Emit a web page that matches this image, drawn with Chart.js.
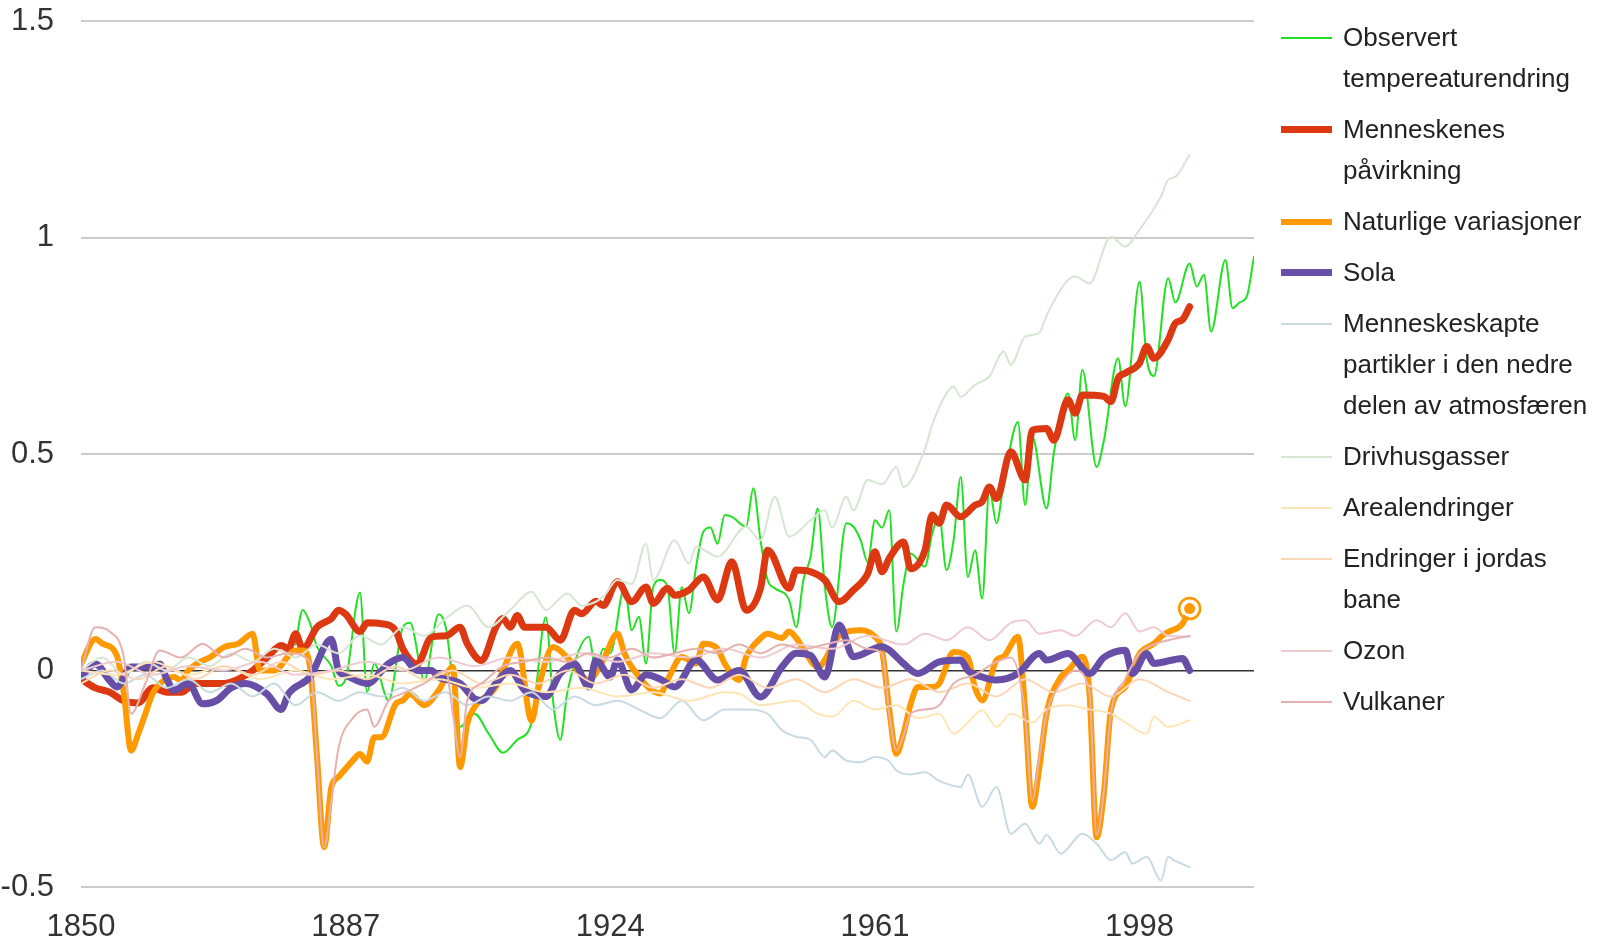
<!DOCTYPE html>
<html lang="no">
<head>
    <meta charset="UTF-8">
    <title>Temperaturendring og årsaker</title>
    <script src="https://cdn.jsdelivr.net/npm/chart.js"></script>
    <style>
        body {
            margin: 0;
            background: #fff;
            font-family: 'Liberation Sans', Arial, sans-serif;
        }

        .wrap {
            position: relative;
            width: 1598px;
            height: 939px;
        }

        #chart {
            position: absolute;
            left: 0;
            top: 0;
        }

        .legend {
            position: absolute;
            left: 1281px;
            top: 17px;
            width: 317px;
        }

        .item {
            display: flex;
            align-items: flex-start;
            margin-bottom: 10px;
        }

        .swatch {
            flex: none;
            width: 51px;
        }

        .label {
            margin-left: 11px;
            width: 255px;
            font-size: 26px;
            line-height: 41px;
            color: #222;
        }
    </style>
</head>
<body>
    <div class="wrap">
        <canvas id="chart" width="1598" height="939"></canvas>
        <div class="legend" id="legend"></div>
    </div>

    <script>
        // Ticks
        const xTicks = [1850, 1887, 1924, 1961, 1998];
        const yTicks = [-0.5, 0, 0.5, 1, 1.5];

        // Observert temperaturendring
        const obsYears = [1880, 1881, 1882, 1883, 1885, 1886, 1887, 1889, 1890, 1891, 1893, 1895, 1896, 1898, 1900, 1901, 1903, 1905, 1907, 1909,
            1911, 1913, 1915, 1916, 1917, 1918, 1921, 1922, 1923, 1924, 1926, 1927, 1928, 1929, 1930, 1931, 1932, 1933, 1934, 1935,
            1936, 1937, 1938, 1939, 1940, 1941, 1943, 1944, 1945, 1946, 1947, 1949, 1950, 1951, 1952, 1953, 1954, 1955, 1957, 1958,
            1959, 1960, 1961, 1962, 1963, 1964, 1965, 1966, 1968, 1969, 1970, 1971, 1972, 1973, 1974, 1975, 1976, 1977, 1978, 1979,
            1981, 1982, 1983, 1985, 1986, 1988, 1989, 1990, 1992, 1993, 1995, 1996, 1998, 1999, 2000, 2002, 2003, 2005, 2006, 2007,
            2008, 2010, 2011, 2012, 2013, 2014];
        const obsVals = [0.06, 0.14, 0.11, 0.055, 0.01, -0.035, -0.02, 0.18, -0.05, 0.016, -0.069, 0.1, 0.11, -0.022, 0.13, 0.1, -0.13, -0.1, -0.146, -0.19,
            -0.16, -0.12, 0.123, -0.07, -0.16, -0.05, 0.078, 0.0, 0.05, 0.04, 0.193, 0.093, 0.124, 0.016, 0.193, 0.209, 0.193, 0.039, 0.193, 0.132,
            0.24, 0.32, 0.33, 0.293, 0.359, 0.355, 0.332, 0.421, 0.301, 0.209, 0.19, 0.163, 0.1, 0.209, 0.262, 0.374, 0.193, 0.1, 0.34, 0.332,
            0.301, 0.25, 0.347, 0.33, 0.37, 0.09, 0.2, 0.27, 0.24, 0.316, 0.355, 0.232, 0.301, 0.447, 0.216, 0.278, 0.166, 0.42, 0.34, 0.432,
            0.574, 0.382, 0.54, 0.374, 0.5, 0.64, 0.532, 0.694, 0.47, 0.53, 0.721, 0.61, 0.898, 0.72, 0.68, 0.906, 0.85, 0.94, 0.887, 0.914,
            0.783, 0.948, 0.837, 0.85, 0.864, 0.956];

        // Menneskenes påvirkning
        const humanYears = [1850, 1852, 1854, 1856, 1858, 1860, 1862, 1864, 1866, 1868, 1870, 1872, 1874, 1876, 1878, 1879, 1880, 1881, 1883, 1885,
            1886, 1887, 1889, 1890, 1892, 1894, 1895, 1897, 1899, 1901, 1903, 1904, 1906, 1908, 1909, 1910, 1911, 1912, 1915, 1917,
            1919, 1920, 1922, 1923, 1925, 1927, 1929, 1930, 1932, 1933, 1935, 1937, 1939, 1941, 1943, 1945, 1946, 1949, 1950, 1952,
            1954, 1956, 1958, 1960, 1961, 1962, 1963, 1965, 1966, 1968, 1969, 1970, 1971, 1973, 1975, 1976, 1977, 1978, 1980, 1982,
            1983, 1985, 1986, 1988, 1989, 1990, 1993, 1994, 1995, 1996, 1998, 1999, 2000, 2002, 2003, 2004, 2005];
        const humanVals = [-0.02, -0.04, -0.05, -0.07, -0.075, -0.04, -0.05, -0.05, -0.03, -0.03, -0.03, -0.02, 0.0, 0.03, 0.058, 0.05, 0.085, 0.05, 0.1, 0.12,
            0.139, 0.13, 0.09, 0.11, 0.108, 0.092, 0.05, 0.015, 0.077, 0.08, 0.1, 0.062, 0.023, 0.1, 0.12, 0.1, 0.127, 0.1, 0.1, 0.07,
            0.139, 0.131, 0.16, 0.15, 0.205, 0.159, 0.193, 0.155, 0.19, 0.174, 0.186, 0.216, 0.163, 0.251, 0.139, 0.19, 0.278, 0.19, 0.232, 0.228,
            0.209, 0.159, 0.186, 0.224, 0.274, 0.228, 0.259, 0.297, 0.235, 0.278, 0.359, 0.34, 0.382, 0.355, 0.382, 0.39, 0.424, 0.397, 0.505, 0.44,
            0.555, 0.559, 0.532, 0.625, 0.594, 0.636, 0.633, 0.621, 0.675, 0.687, 0.71, 0.748, 0.721, 0.764, 0.802, 0.81, 0.84];

        // Naturlige variasjoner
        const naturalYears = [1850, 1852, 1853, 1855, 1856, 1857, 1858, 1859, 1860, 1861, 1863, 1864, 1865, 1867, 1868, 1870, 1872, 1874, 1875, 1877,
            1880, 1881, 1882, 1883, 1884, 1885, 1886, 1888, 1889, 1890, 1891, 1892, 1894, 1895, 1896, 1898, 1900, 1902, 1903, 1904,
            1905, 1908, 1909, 1911, 1913, 1914, 1916, 1918, 1921, 1923, 1925, 1926, 1927, 1931, 1932, 1934, 1936, 1937, 1939, 1940,
            1942, 1943, 1945, 1946, 1948, 1949, 1950, 1951, 1953, 1956, 1959, 1961, 1962, 1963, 1964, 1965, 1966, 1967, 1969, 1970,
            1972, 1974, 1975, 1976, 1978, 1979, 1981, 1982, 1983, 1984, 1985, 1987, 1988, 1990, 1991, 1992, 1993, 1994, 1996, 1998,
            2000, 2001, 2002, 2004, 2005];
        const naturalVals = [0.015, 0.073, 0.062, 0.035, -0.054, -0.185, -0.146, -0.1, -0.054, -0.031, -0.015, -0.023, 0.0, 0.023, 0.03, 0.054, 0.062, 0.085, 0.0, 0.0,
            0.046, 0.046, 0.01, -0.2, -0.408, -0.27, -0.246, -0.208, -0.193, -0.21, -0.154, -0.154, -0.077, -0.069, -0.054, -0.08, -0.046, 0.008, -0.223, -0.123,
            -0.085, -0.038, 0.0, 0.062, -0.116, -0.038, 0.054, 0.03, -0.022, 0.024, 0.085, 0.039, 0.008, -0.053, -0.022, 0.031, 0.016, 0.062, 0.05, 0.016,
            -0.022, 0.031, 0.074, 0.085, 0.075, 0.09, 0.075, 0.05, 0.008, 0.08, 0.093, 0.078, 0.047, -0.09, -0.192, -0.146, -0.077, -0.038, -0.038, -0.03,
            0.043, 0.03, -0.04, -0.069, 0.024, 0.032, 0.078, -0.09, -0.315, -0.223, -0.1, -0.015, 0.0, 0.032, -0.053, -0.385, -0.285, -0.092, -0.038, 0.039,
            0.062, 0.078, 0.089, 0.108, 0.143];

        // Sola
        const solarYears = [1850, 1852, 1854, 1855, 1857, 1860, 1861, 1862, 1863, 1865, 1867, 1869, 1871, 1873, 1876, 1878, 1879, 1882, 1885, 1886,
            1887, 1890, 1893, 1895, 1897, 1899, 1900, 1903, 1905, 1906, 1908, 1910, 1912, 1915, 1917, 1919, 1921, 1922, 1924, 1925,
            1927, 1929, 1931, 1933, 1936, 1939, 1942, 1945, 1948, 1950, 1952, 1954, 1956, 1958, 1962, 1963, 1965, 1967, 1970, 1973,
            1974, 1976, 1978, 1981, 1984, 1985, 1988, 1991, 1993, 1996, 1997, 1999, 2000, 2004, 2005];
        const solarVals = [-0.015, 0.015, -0.023, -0.038, 0.008, 0.008, 0.015, -0.02, -0.046, -0.03, -0.077, -0.069, -0.04, -0.03, -0.054, -0.09, -0.054, -0.015, 0.072, 0.0,
            -0.011, -0.03, 0.016, 0.03, 0.0, 0.0, -0.015, -0.03, -0.065, -0.069, -0.03, 0.0, -0.045, -0.06, -0.007, 0.015, -0.038, 0.024, -0.015, 0.024,
            -0.045, -0.01, -0.02, -0.038, 0.024, -0.022, 0.0, -0.061, 0.008, 0.04, 0.035, -0.015, 0.105, 0.032, 0.055, 0.047, 0.016, -0.007, 0.02, 0.024,
            0.0, -0.015, -0.022, -0.007, 0.039, 0.024, 0.039, -0.007, 0.03, 0.047, -0.007, 0.039, 0.016, 0.028, 0.0];

        // Menneskeskapte partikler i den nedre delen av atmosfæren
        const aerosolYears = [1850, 1853, 1856, 1859, 1862, 1865, 1868, 1871, 1874, 1877, 1880, 1883, 1886, 1889, 1892, 1895, 1898, 1901, 1904, 1907,
            1910, 1913, 1916, 1919, 1922, 1925, 1928, 1931, 1934, 1937, 1940, 1943, 1946, 1948, 1950, 1952, 1954, 1955, 1957, 1959,
            1961, 1963, 1964, 1966, 1968, 1970, 1973, 1974, 1976, 1978, 1980, 1982, 1984, 1985, 1987, 1990, 1992, 1994, 1996, 1997,
            1999, 2001, 2002, 2003, 2005];
        const aerosolVals = [-0.02, 0.0, -0.03, -0.01, -0.04, -0.02, -0.05, -0.03, -0.06, -0.03, -0.08, -0.05, -0.07, -0.05, -0.06, -0.04, -0.07, -0.05, -0.08, -0.06,
            -0.07, -0.05, -0.09, -0.06, -0.08, -0.07, -0.09, -0.11, -0.07, -0.115, -0.09, -0.09, -0.1, -0.138, -0.153, -0.16, -0.2, -0.185, -0.208, -0.212,
            -0.2, -0.21, -0.231, -0.24, -0.235, -0.255, -0.269, -0.24, -0.315, -0.269, -0.377, -0.354, -0.4, -0.38, -0.423, -0.377, -0.4, -0.438, -0.42, -0.446,
            -0.43, -0.485, -0.431, -0.44, -0.454];

        // Drivhusgasser
        const ghgYears = [1850, 1853, 1856, 1859, 1862, 1865, 1868, 1871, 1874, 1877, 1880, 1883, 1886, 1889, 1892, 1895, 1898, 1901, 1904, 1907,
            1910, 1913, 1915, 1918, 1920, 1923, 1925, 1927, 1929, 1930, 1933, 1935, 1936, 1939, 1943, 1945, 1947, 1949, 1952, 1954,
            1955, 1957, 1958, 1960, 1962, 1964, 1965, 1968, 1969, 1971, 1972, 1973, 1975, 1977, 1979, 1980, 1982, 1984, 1985, 1988,
            1989, 1991, 1994, 1996, 1998, 2001, 2002, 2003, 2005];
        const ghgVals = [0.0, 0.03, -0.01, 0.02, 0.0, 0.03, 0.01, 0.04, 0.02, 0.05, 0.03, 0.06, 0.04, 0.08, 0.06, 0.1, 0.08, 0.12, 0.15, 0.1,
            0.14, 0.182, 0.14, 0.178, 0.15, 0.17, 0.209, 0.2, 0.293, 0.209, 0.301, 0.247, 0.286, 0.263, 0.332, 0.301, 0.401, 0.309, 0.347, 0.37,
            0.33, 0.401, 0.37, 0.44, 0.43, 0.47, 0.424, 0.512, 0.567, 0.64, 0.656, 0.632, 0.66, 0.679, 0.737, 0.706, 0.771, 0.78, 0.82, 0.902,
            0.91, 0.894, 1.002, 0.979, 1.018, 1.095, 1.133, 1.14, 1.191];

        // Arealendringer
        const landYears = [1850, 1855, 1860, 1865, 1870, 1875, 1880, 1885, 1890, 1895, 1900, 1905, 1910, 1915, 1920, 1925, 1930, 1935, 1940, 1942,
            1945, 1950, 1953, 1955, 1958, 1961, 1964, 1967, 1970, 1972, 1974, 1976, 1978, 1980, 1983, 1985, 1988, 1991, 1994, 1996,
            1999, 2000, 2002, 2005];
        const landVals = [0.0, -0.01, 0.02, -0.01, 0.01, -0.02, 0.0, -0.02, -0.01, -0.03, -0.02, -0.04, -0.03, -0.05, -0.04, -0.06, -0.05, -0.07, -0.05, -0.053,
            -0.08, -0.07, -0.1, -0.107, -0.07, -0.09, -0.08, -0.11, -0.1, -0.146, -0.12, -0.092, -0.13, -0.1, -0.12, -0.09, -0.08, -0.09, -0.1, -0.12,
            -0.146, -0.107, -0.13, -0.115];

        // Endringer i jordas bane
        const orbitYears = [1850, 1854, 1858, 1862, 1866, 1870, 1874, 1878, 1882, 1886, 1890, 1894, 1898, 1902, 1906, 1910, 1914, 1918, 1922, 1926,
            1930, 1934, 1938, 1942, 1946, 1950, 1954, 1958, 1962, 1966, 1970, 1974, 1978, 1982, 1986, 1990, 1994, 1998, 2002, 2005];
        const orbitVals = [-0.03, 0.0, -0.02, 0.01, -0.02, 0.01, -0.01, 0.02, -0.01, 0.0, -0.02, 0.01, -0.02, 0.0, -0.03, -0.01, -0.03, 0.0, -0.03, -0.01,
            -0.04, -0.02, -0.04, -0.01, -0.04, -0.02, -0.05, -0.02, -0.04, -0.02, -0.05, -0.03, -0.06, -0.02, -0.05, -0.03, -0.06, -0.02, -0.05, -0.07];

        // Ozon
        const ozoneYears = [1850, 1855, 1860, 1865, 1870, 1875, 1880, 1885, 1890, 1895, 1900, 1905, 1910, 1915, 1920, 1925, 1930, 1935, 1940, 1945,
            1950, 1955, 1960, 1965, 1968, 1971, 1974, 1977, 1980, 1982, 1984, 1987, 1989, 1992, 1994, 1996, 1998, 2000, 2002, 2005];
        const ozoneVals = [0.0, 0.02, -0.01, 0.01, 0.0, 0.02, -0.01, 0.0, 0.02, 0.0, 0.03, 0.01, 0.03, 0.02, 0.04, 0.02, 0.04, 0.03, 0.05, 0.03,
            0.06, 0.05, 0.08, 0.06, 0.085, 0.07, 0.1, 0.07, 0.11, 0.116, 0.085, 0.093, 0.08, 0.116, 0.1, 0.132, 0.09, 0.1, 0.08, 0.078];

        // Vulkaner
        const volcYears = [1850, 1852, 1854, 1856, 1857, 1859, 1861, 1864, 1867, 1870, 1873, 1876, 1879, 1882, 1883, 1884, 1885, 1886, 1888, 1890,
            1891, 1893, 1895, 1898, 1901, 1902, 1903, 1904, 1906, 1909, 1912, 1915, 1918, 1921, 1924, 1927, 1930, 1933, 1936, 1939,
            1942, 1945, 1948, 1951, 1954, 1957, 1960, 1962, 1963, 1964, 1965, 1966, 1968, 1970, 1972, 1975, 1978, 1980, 1982, 1983,
            1984, 1985, 1987, 1989, 1991, 1992, 1993, 1994, 1996, 1998, 2000, 2002, 2005];
        const volcVals = [0.0, 0.1, 0.09, 0.03, -0.1, -0.03, 0.046, 0.03, 0.062, 0.03, 0.05, 0.03, 0.04, 0.02, -0.2, -0.41, -0.3, -0.18, -0.11, -0.09,
            -0.13, -0.07, -0.053, -0.03, 0.0, -0.1, -0.2, -0.069, -0.03, 0.01, 0.02, 0.03, 0.02, 0.04, 0.03, 0.05, 0.03, 0.04, 0.05, 0.04,
            0.06, 0.04, 0.06, 0.05, 0.06, 0.07, 0.05, 0.04, -0.1, -0.185, -0.15, -0.1, -0.09, -0.08, -0.03, -0.01, 0.02, 0.03, -0.1, -0.3,
            -0.2, -0.1, -0.03, 0.0, -0.05, -0.38, -0.28, -0.1, -0.02, 0.04, 0.06, 0.07, 0.08];

        const seriesNames = [
            'Observert tempereaturendring',
            'Menneskenes påvirkning',
            'Naturlige variasjoner',
            'Sola',
            'Menneskeskapte partikler i den nedre delen av atmosfæren',
            'Drivhusgasser',
            'Arealendringer',
            'Endringer i jordas bane',
            'Ozon',
            'Vulkaner'
        ];
        const seriesColors = ['#22e022', '#dc3912', '#ff9900', '#674ea7', '#c8dbe2', '#d6e6d2', '#fde6b6', '#fcd7b6', '#efcbd0', '#e6b1b1'];
        const seriesWidths = [2, 7, 6, 7, 2, 2, 2, 2, 2, 2];

        const seriesYears = [obsYears, humanYears, naturalYears, solarYears, aerosolYears, ghgYears, landYears, orbitYears, ozoneYears, volcYears];
        const seriesVals = [obsVals, humanVals, naturalVals, solarVals, aerosolVals, ghgVals, landVals, orbitVals, ozoneVals, volcVals];

        const tickFont = { family: "'Liberation Sans Narrow', 'Liberation Sans', Arial, sans-serif", size: 31 };

        const datasets = seriesNames.map((name, i) => ({
            label: name,
            data: seriesYears[i].map((yr, j) => ({ x: yr, y: seriesVals[i][j] })),
            borderColor: seriesColors[i],
            backgroundColor: seriesColors[i],
            borderWidth: seriesWidths[i],
            pointRadius: 0,
            fill: false,
            cubicInterpolationMode: 'monotone',
            borderCapStyle: 'round',
            borderJoinStyle: 'round',
            // later series are drawn on top
            order: seriesNames.length - i
        }));

        // last point of the natural variations gets a highlighted marker
        const lastNat = naturalYears.length - 1;
        datasets[2].pointRadius = ctx => ctx.dataIndex === lastNat ? 7 : 0;
        datasets[2].pointBackgroundColor = '#ff9900';
        datasets[2].pointBorderColor = '#ffffff';
        datasets[2].pointBorderWidth = 3;

        const focusRing = {
            id: 'focusRing',
            afterDatasetsDraw(chart) {
                const meta = chart.getDatasetMeta(2);
                const pt = meta.data[lastNat];
                if (!pt) return;
                const c = chart.ctx;
                c.save();
                c.beginPath();
                c.arc(pt.x, pt.y, 10.5, 0, Math.PI * 2);
                c.strokeStyle = '#ff9900';
                c.lineWidth = 2.5;
                c.stroke();
                c.restore();
            }
        };

        new Chart(document.getElementById('chart'), {
            type: 'line',
            data: { datasets },
            options: {
                responsive: false,
                animation: false,
                events: [],
                layout: { padding: { top: 21, right: 344, left: 0, bottom: 0 } },
                plugins: {
                    legend: { display: false },
                    tooltip: { enabled: false }
                },
                scales: {
                    x: {
                        type: 'linear',
                        min: 1850,
                        max: 2014,
                        afterBuildTicks: s => { s.ticks = xTicks.map(v => ({ value: v })); },
                        afterFit: s => { s.height = 52; },
                        grid: { display: false },
                        border: { display: false },
                        ticks: {
                            font: tickFont,
                            color: '#333',
                            padding: 14,
                            maxRotation: 0,
                            autoSkip: false,
                            callback: v => String(v)
                        }
                    },
                    y: {
                        min: -0.5,
                        max: 1.5,
                        afterBuildTicks: s => { s.ticks = yTicks.map(v => ({ value: v })); },
                        afterFit: s => {
                            s.width = 81;
                            // tick padding would otherwise push the plot down
                            s.paddingTop = 0;
                            s.paddingBottom = 0;
                        },
                        border: { display: false },
                        grid: {
                            drawTicks: false,
                            color: ctx => ctx.tick && ctx.tick.value === 0 ? '#333' : '#cccccc',
                            lineWidth: ctx => ctx.tick && ctx.tick.value === 0 ? 1.5 : 2
                        },
                        ticks: {
                            font: tickFont,
                            color: '#333',
                            padding: 27,
                            callback: v => String(v)
                        }
                    }
                }
            },
            plugins: [focusRing]
        });

        // legend with wrapped labels
        const legend = document.getElementById('legend');
        seriesNames.forEach((name, i) => {
            const h = seriesWidths[i];
            legend.insertAdjacentHTML('beforeend',
                `<div class="item"><div class="swatch" style="height:${h}px;margin-top:${20.5 - h / 2}px;background:${seriesColors[i]}"></div>` +
                `<div class="label">${name}</div></div>`);
        });
    </script>
</body>
</html>
